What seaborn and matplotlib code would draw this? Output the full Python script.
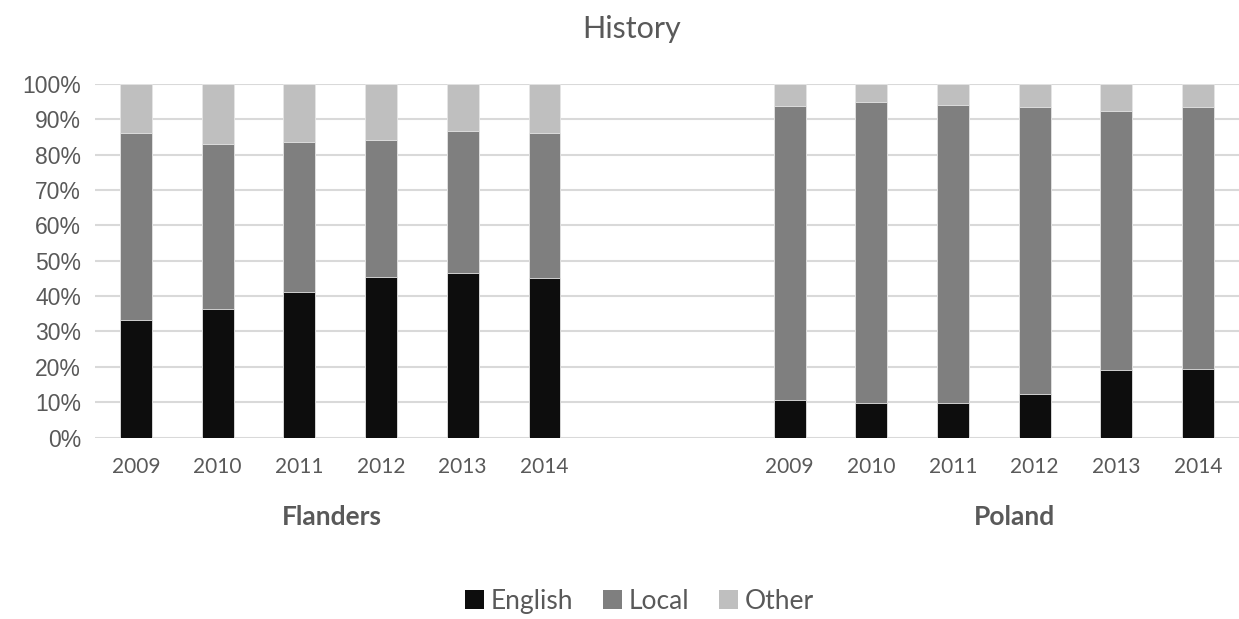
import pandas as pd
import seaborn as sns
import matplotlib.pyplot as plt
from matplotlib.patches import Patch

# values (percent)
years = ["2009", "2010", "2011", "2012", "2013", "2014"]
regions = ["Flanders", "Poland"]
flanders_english = [33.2, 36.4, 41.2, 45.3, 46.6, 45.2]
flanders_local = [52.8, 46.5, 42.3, 38.9, 40.2, 40.8]
flanders_other = [14.0, 17.1, 16.5, 15.8, 13.2, 14.0]
poland_english = [10.6, 9.8, 9.8, 12.2, 19.2, 19.4]
poland_local = [83.3, 85.2, 84.3, 81.3, 73.3, 74.1]
poland_other = [6.1, 5.0, 5.9, 6.5, 7.5, 6.5]

colors = {"English": "#0d0d0d", "Local": "#7f7f7f", "Other": "#bfbfbf"}

rows = []
for region, eng, loc, oth in [("Flanders", flanders_english, flanders_local, flanders_other),
                              ("Poland", poland_english, poland_local, poland_other)]:
    for y, e, l, o in zip(years, eng, loc, oth):
        rows.append({"slot": region + y, "year": y, "English": e, "Local": l, "Other": o})
df = pd.DataFrame(rows)
df["top_english"] = df["English"]
df["top_local"] = df["English"] + df["Local"]
df["top_other"] = df["English"] + df["Local"] + df["Other"]

# two empty slots between the groups, like the Excel chart
order = ["Flanders" + y for y in years] + ["gap1", "gap2"] + ["Poland" + y for y in years]

sns.set_theme(style="white")
plt.rcParams["font.family"] = ["Lato", "DejaVu Sans"]

fig = plt.figure(figsize=(12.39, 6.19), dpi=100)
ax = fig.add_axes([0.0767, 0.2932, 0.9233, 0.5711])

for col, name in [("top_other", "Other"), ("top_local", "Local"), ("top_english", "English")]:
    sns.barplot(data=df, x="slot", y=col, order=order, color=colors[name], width=0.39,
                saturation=1, edgecolor="#e6e6e6", linewidth=0.6, ax=ax, zorder=3)

ax.set_ylim(0, 100)
ax.set_xlim(-0.5, len(order) - 0.5)
ax.set_yticks(range(0, 101, 10))
ax.set_yticklabels([f"{v}%" for v in range(0, 101, 10)], fontsize=16.5,
                   color="#595959", family="Liberation Sans")
labels = [s[-4:] if s.startswith(("Flanders", "Poland")) else "" for s in order]
ax.set_xticks(range(len(order)))
ax.set_xticklabels(labels, fontsize=15, color="#595959")
ax.tick_params(axis="both", length=0)
ax.tick_params(axis="x", pad=14)
ax.tick_params(axis="y", pad=10)
ax.set_xlabel("")
ax.set_ylabel("")
ax.yaxis.grid(True, color="#d9d9d9", linewidth=1.5, zorder=0)
ax.set_axisbelow(True)
for s in ax.spines.values():
    s.set_visible(False)

# group labels below the years
for name, xpos in [("Flanders", 2.4), ("Poland", 10.75)]:
    ax.text(xpos, -22.5, name, ha="center", va="center", fontsize=19, fontweight="bold",
            color="#595959", transform=ax.transData)

fig.suptitle("History", x=0.51, y=0.975, fontsize=22, color="#595959")

handles = [Patch(facecolor=colors[k], edgecolor="none") for k in ["English", "Local", "Other"]]
fig.legend(handles, ["English", "Local", "Other"], loc="center", bbox_to_anchor=(0.516, 0.029),
           ncol=3, frameon=False, fontsize=19, handlelength=0.75, handleheight=0.75,
           handletextpad=0.25, columnspacing=1.1, labelcolor="#595959")

plt.savefig("out.png", dpi=100)
